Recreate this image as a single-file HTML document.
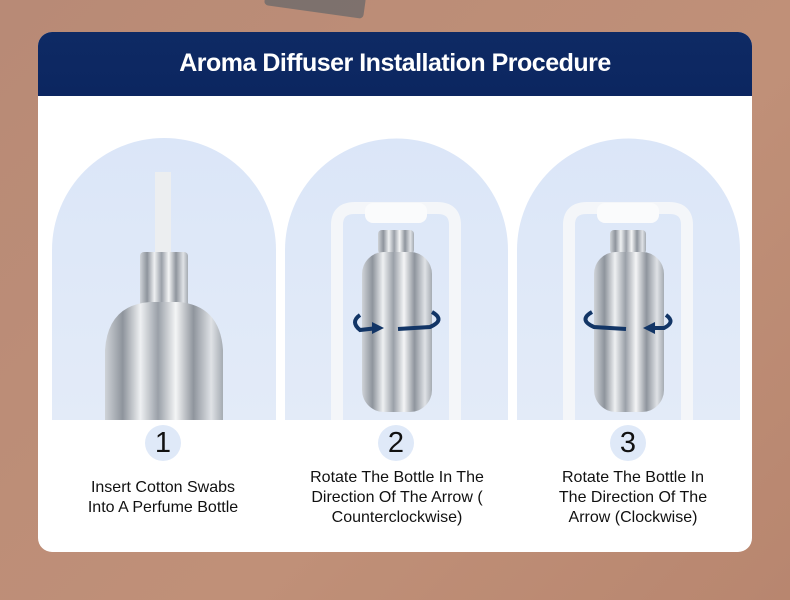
<!DOCTYPE html>
<html><head><style>
body{margin:0;width:790px;height:600px;overflow:hidden;background:linear-gradient(135deg,#b88a76,#c09078 60%,#b8866f);font-family:"Liberation Sans",sans-serif;position:relative}
.card{position:absolute;left:38px;top:32px;width:714px;height:520px;border-radius:14px;background:#fff;overflow:hidden}
.hd{height:64px;background:linear-gradient(#0e2a64,#0c2660);color:#fff;font-weight:bold;font-size:25px;text-align:center;line-height:62px;letter-spacing:-0.5px}
.num{position:absolute;top:425px;width:36px;height:36px;border-radius:50%;background:#dfe9f8;font-size:29px;line-height:37px;text-align:center;color:#111}
.t{position:absolute;top:446px;width:240px;text-align:center;font-size:16px;line-height:20px;color:#111}
</style></head><body>
<div style="position:absolute;left:265px;top:-10px;width:100px;height:22px;background:#6e6a6a;transform:rotate(8deg);border-radius:4px;opacity:.8"></div>
<div class="card"><div class="hd">Aroma Diffuser Installation Procedure</div></div>
<svg style="position:absolute;left:0;top:0" width="790" height="600">
<defs>
<linearGradient id="bg" x1="0" y1="0" x2="0" y2="1"><stop offset="0" stop-color="#dbe6f8"/><stop offset="1" stop-color="#e3ebf8"/></linearGradient>
<linearGradient id="gl" x1="0" y1="0" x2="1" y2="0">
<stop offset="0" stop-color="#cfd3d8"/><stop offset=".15" stop-color="#8e949c"/><stop offset=".3" stop-color="#eef0f2"/><stop offset=".45" stop-color="#9aa0a8"/><stop offset=".6" stop-color="#f4f5f6"/><stop offset=".75" stop-color="#8f959d"/><stop offset=".9" stop-color="#dfe2e6"/><stop offset="1" stop-color="#a5abb2"/></linearGradient>
</defs>
<path d="M52 420V250A112 112 0 0 1 276 250V420Z" fill="url(#bg)"/>
<path d="M285 420V250A111.5 111.5 0 0 1 508 250V420Z" fill="url(#bg)"/>
<path d="M517 420V250A111.5 111.5 0 0 1 740 250V420Z" fill="url(#bg)"/>
<rect x="155" y="172" width="16" height="85" fill="#eceef0"/>
<rect x="140" y="252" width="48" height="55" rx="4" fill="url(#gl)"/>
<path d="M105 420V350Q108 305 150 302H178Q220 305 223 350V420Z" fill="url(#gl)"/>
<path d="M337 420V225Q337 208 355 208H437Q455 208 455 225V420" fill="none" stroke="#f4f6f9" stroke-width="12"/>
<rect x="365" y="203" width="62" height="20" rx="8" fill="#fafbfc"/>
<rect x="378" y="230" width="36" height="24" rx="4" fill="url(#gl)"/>
<rect x="362" y="252" width="70" height="160" rx="22" fill="url(#gl)"/>
<path d="M360 315Q350 322 360 330L378 328" fill="none" stroke="#123566" stroke-width="4"/>
<path d="M372 322L384 328L372 334Z" fill="#123566"/>
<path d="M398 329L430 327Q446 320 432 312" fill="none" stroke="#123566" stroke-width="4"/>
<path d="M569 420V225Q569 208 587 208H669Q687 208 687 225V420" fill="none" stroke="#f4f6f9" stroke-width="12"/>
<rect x="597" y="203" width="62" height="20" rx="8" fill="#fafbfc"/>
<rect x="610" y="230" width="36" height="24" rx="4" fill="url(#gl)"/>
<rect x="594" y="252" width="70" height="160" rx="22" fill="url(#gl)"/>
<path d="M592 312Q578 320 594 327L626 329" fill="none" stroke="#123566" stroke-width="4"/>
<path d="M666 315Q676 322 664 328L650 328" fill="none" stroke="#123566" stroke-width="4"/>
<path d="M655 322L643 328L655 334Z" fill="#123566"/>
</svg>
<div class="num" style="left:145px">1</div>
<div class="num" style="left:378px">2</div>
<div class="num" style="left:610px">3</div>
<div class="t" style="left:43px;top:478px">Insert Cotton Swabs<br>Into A Perfume Bottle</div>
<div class="t" style="left:277px;top:468px">Rotate The Bottle In The<br>Direction Of The Arrow (<br>Counterclockwise)</div>
<div class="t" style="left:513px;top:468px">Rotate The Bottle In<br>The Direction Of The<br>Arrow (Clockwise)</div>
</body></html>
